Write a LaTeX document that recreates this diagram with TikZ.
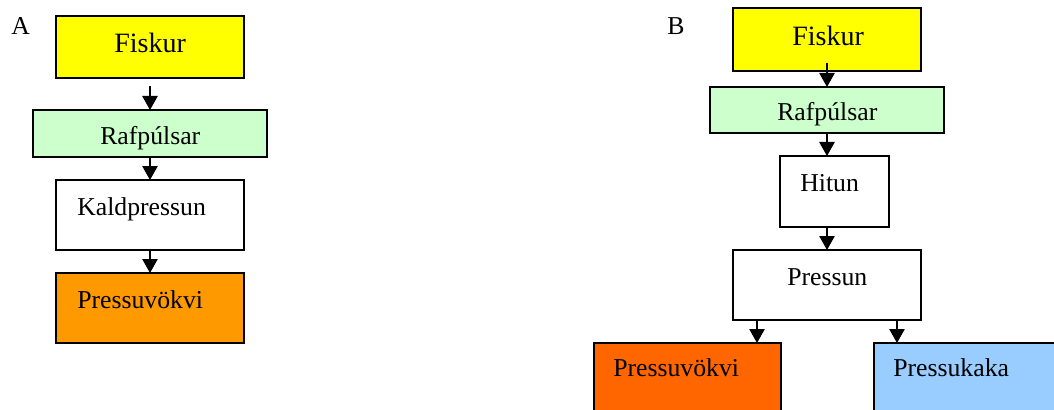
\documentclass[tikz,border=0pt]{standalone}
\usepackage{fontspec}
\setmainfont{Liberation Serif}
\usetikzlibrary{arrows.meta}
\definecolor{cyel}{HTML}{FFFF00}
\definecolor{cgreen}{HTML}{CCFFCC}
\definecolor{corangeA}{HTML}{FF9900}
\definecolor{corangeB}{HTML}{FF6600}
\definecolor{cblue}{HTML}{99CCFF}
\begin{document}
\begin{tikzpicture}[x=0.75pt,y=-0.75pt,
  box/.style={draw=black,line width=1.4pt,inner sep=0pt,outer sep=0pt,rectangle},
  big/.style={font=\fontsize{21pt}{24pt}\selectfont,inner sep=0pt,anchor=base west},
  txt/.style={font=\fontsize{19.3pt}{22pt}\selectfont,inner sep=0pt,anchor=base west},
  arr/.style={line width=1.2pt,-{Triangle[length=10.5pt,width=11.5pt]}}]
\clip (0,0) rectangle (1054,410);
\fill[white] (0,0) rectangle (1054,410);
% Panel A
\node[box,fill=cyel,minimum width=188*0.75pt,minimum height=62*0.75pt] (fA) at (150,47) {};
\node[box,fill=cgreen,minimum width=234*0.75pt,minimum height=47*0.75pt] (rA) at (150,133.5) {};
\node[box,fill=white,minimum width=188*0.75pt,minimum height=70*0.75pt] (kA) at (150,215) {};
\node[box,fill=corangeA,minimum width=188*0.75pt,minimum height=70*0.75pt] (pA) at (150,308) {};
\node[txt] (labA) at (11,35) {A};
\node[big] (tfA) at (114,53) {Fiskur};
\node[txt] (trA) at (100,144) {Rafpúlsar};
\node[txt] (tkA) at (77,215) {Kaldpressun};
\node[txt] (tpA) at (77,308) {Pressuvökvi};
\draw[arr] ([yshift=-8*0.75pt]fA.south) -- (rA.north);
\draw[arr] (rA.south) -- (kA.north);
\draw[arr] (kA.south) -- (pA.north);
% Panel B
\node[box,fill=cyel,minimum width=188*0.75pt,minimum height=63*0.75pt] (fB) at (827,39.5) {};
\node[box,fill=cgreen,minimum width=234*0.75pt,minimum height=46*0.75pt] (rB) at (827,110) {};
\node[box,fill=white,minimum width=109*0.75pt,minimum height=71*0.75pt] (hB) at (834.5,191.5) {};
\node[box,fill=white,minimum width=188*0.75pt,minimum height=70*0.75pt] (prB) at (827,285) {};
\node[box,fill=corangeB,minimum width=187*0.75pt,minimum height=100*0.75pt,anchor=north west] (pvB) at (594,343) {};
\node[box,fill=cblue,minimum width=260*0.75pt,minimum height=100*0.75pt,anchor=north west] (pkB) at (874,343) {};
\node[txt] (labB) at (667,35) {B};
\node[big] (tfB) at (792,46) {Fiskur};
\node[txt] (trB) at (777,121) {Rafpúlsar};
\node[txt] (thB) at (800,191) {Hitun};
\node[txt] (tprB) at (787,285) {Pressun};
\node[txt] (tpvB) at (613,376) {Pressuvökvi};
\node[txt] (tpkB) at (893,376) {Pressukaka};
\draw[arr] ([yshift=8*0.75pt]fB.south) -- (rB.north);
\draw[arr] (rB.south) -- (rB.south |- hB.north);
\draw[arr] (hB.south -| prB.north) -- (prB.north);
\coordinate (s1) at (757,320);
\coordinate (s2) at (897,320);
\draw[arr] (s1) -- (s1 |- pvB.north);
\draw[arr] (s2) -- (s2 |- pkB.north);
\end{tikzpicture}
\end{document}
